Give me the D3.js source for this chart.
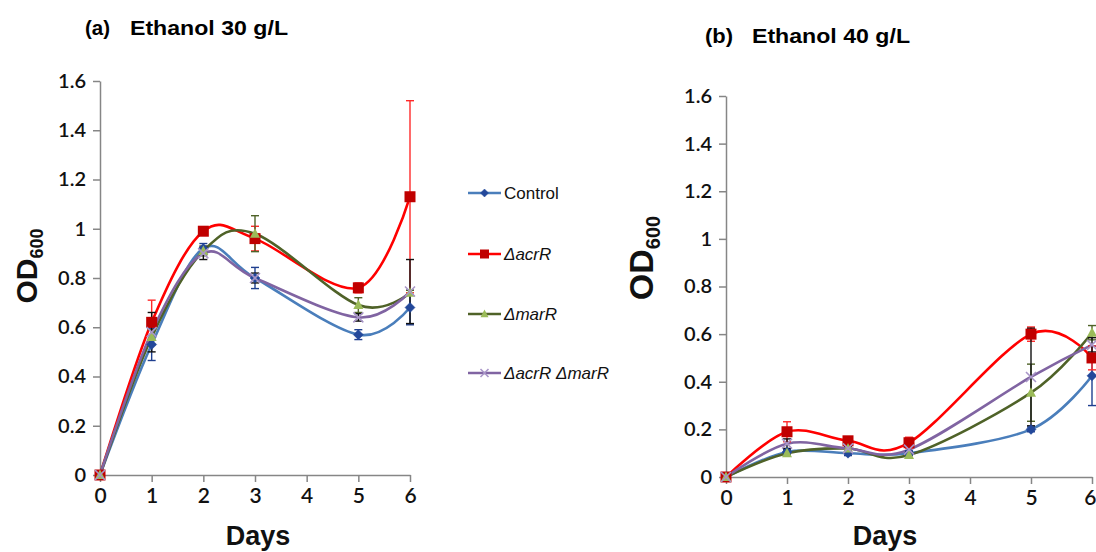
<!DOCTYPE html>
<html><head><meta charset="utf-8">
<script src="https://cdn.jsdelivr.net/npm/d3@7"></script>
<style>
html,body{margin:0;padding:0;background:#fff;}
svg{display:block;}
</style>
</head><body>
<svg id="chart" width="1096" height="552"></svg>
<script>
// ---------- data ----------
const days = [0, 1, 2, 3, 5, 6];
const xTicks = [0, 1, 2, 3, 4, 5, 6];
const yTicks = [0, 0.2, 0.4, 0.6, 0.8, 1.0, 1.2, 1.4, 1.6];
const seriesNames = ["Control", "ΔacrR", "ΔmarR", "ΔacrR ΔmarR"];
const panelTitles = ["Ethanol 30 g/L", "Ethanol 40 g/L"];
const panelLetters = ["(a)", "(b)"];

// Panel (a) Ethanol 30 g/L
const a_control   = [0, 0.53, 0.92, 0.80, 0.57, 0.68];
const a_acrR      = [0, 0.62, 0.99, 0.96, 0.76, 1.13];
const a_marR      = [0, 0.56, 0.91, 0.98, 0.69, 0.74];
const a_acrRmarR  = [0, 0.58, 0.90, 0.80, 0.64, 0.745];
const a_control_err  = [0.005, 0.065, 0.02, 0.043, 0.02, 0.07];
const a_acrR_err     = [0.005, 0.09, 0.01, 0.05, 0.02, 0.39];
const a_marR_err     = [0.005, 0.03, 0.02, 0.073, 0.03, 0.01];
const a_acrRmarR_err = [0.005, 0.08, 0.025, 0.02, 0.015, 0.13];

// Panel (b) Ethanol 40 g/L
const b_control   = [0, 0.105, 0.10, 0.10, 0.20, 0.425];
const b_acrR      = [0, 0.19, 0.152, 0.144, 0.60, 0.50];
const b_marR      = [0, 0.10, 0.12, 0.092, 0.354, 0.606];
const b_acrRmarR  = [0, 0.14, 0.12, 0.115, 0.42, 0.555];
const b_control_err  = [0.005, 0.01, 0.01, 0.01, 0.01, 0.125];
const b_acrR_err     = [0.005, 0.042, 0.01, 0.023, 0.03, 0.05];
const b_marR_err     = [0.005, 0.01, 0.01, 0.01, 0.12, 0.03];
const b_acrRmarR_err = [0.005, 0.02, 0.01, 0.01, 0.205, 0.03];

// ---------- styles ----------
const lineColors   = ["#4a7ebb", "#ff0000", "#4f6228", "#8064a2"];
const markerColors = ["#23489a", "#c00000", "#9bbb59", "#a996c8"];
const errColors    = ["#1f3f8f", "#ff2a2a", "#4f6228", "#111111"];
const markerTypes  = ["diamond", "square", "triangle", "x"];

const panels = [
  {xr: [100, 410], yr: [475, 81], vals: [a_control, a_acrR, a_marR, a_acrRmarR],
   errs: [a_control_err, a_acrR_err, a_marR_err, a_acrRmarR_err],
   letter: {x: 85, y: 35, w: 25}, title: {x: 130, y: 35, w: 158},
   od: {x: 37, y: 266, size: 30, sub: 18}, daysLbl: {x: 258, y: 545}},
  {xr: [726, 1092], yr: [477, 96], vals: [b_control, b_acrR, b_marR, b_acrRmarR],
   errs: [b_control_err, b_acrR_err, b_marR_err, b_acrRmarR_err],
   letter: {x: 705, y: 43, w: 28}, title: {x: 752, y: 43, w: 158},
   od: {x: 653, y: 258, size: 34, sub: 20}, daysLbl: {x: 885, y: 545}}
];

const svg = d3.select("#chart");
const axisColor = "#868686";
const tickFont = "Lato, 'Open Sans', sans-serif";
const fmt = v => String(+v.toFixed(1));

function drawMarker(g, type, x, y, color, s) {
  if (type === "diamond") {
    g.append("path").attr("d", `M${x},${y - s}L${x + s},${y}L${x},${y + s}L${x - s},${y}Z`)
      .attr("fill", color).attr("stroke", color).attr("stroke-width", 0.5);
  } else if (type === "square") {
    g.append("rect").attr("x", x - s).attr("y", y - s).attr("width", 2 * s).attr("height", 2 * s)
      .attr("fill", color);
  } else if (type === "triangle") {
    g.append("path").attr("d", `M${x},${y - s * 1.1}L${x + s},${y + s * 0.8}L${x - s},${y + s * 0.8}Z`)
      .attr("fill", color);
  } else {
    g.append("path").attr("d", `M${x - s},${y - s}L${x + s},${y + s}M${x - s},${y + s}L${x + s},${y - s}`)
      .attr("stroke", color).attr("stroke-width", 1.6).attr("fill", "none");
  }
}

panels.forEach((p, pi) => {
  const x = d3.scaleLinear().domain([0, 6]).range(p.xr);
  const y = d3.scaleLinear().domain([0, 1.6]).range(p.yr);
  const g = svg.append("g");

  // y axis
  const yAxis = g.append("g").attr("transform", `translate(${p.xr[0]},0)`)
    .call(d3.axisLeft(y).tickValues(yTicks).tickFormat(fmt).tickSize(7).tickSizeOuter(0).tickPadding(7));
  // x axis
  const xAxis = g.append("g").attr("transform", `translate(0,${p.yr[0]})`)
    .call(d3.axisBottom(x).tickValues(xTicks).tickFormat(d3.format("d")).tickSize(7).tickSizeOuter(0).tickPadding(6));
  [yAxis, xAxis].forEach(ax => {
    ax.select(".domain").attr("stroke", axisColor).attr("stroke-width", 1.5);
    ax.selectAll(".tick line").attr("stroke", axisColor).attr("stroke-width", 1.5);
    ax.selectAll(".tick text").attr("fill", "#111").attr("font-family", tickFont)
      .attr("font-size", 20).attr("font-weight", 600);
  });
  xAxis.selectAll(".tick text").attr("font-size", 21);
  // keep the last tick label of the right panel inside the page edge
  if (pi === 1) {
    xAxis.selectAll(".tick text").filter(d => d === 6).attr("text-anchor", "end").attr("dx", 4);
  }

  // series
  const line = d3.line().x((d, i) => x(days[i])).y(d => y(d)).curve(d3.curveCardinal.tension(0));
  p.vals.forEach((vals, si) => {
    const sg = g.append("g");
    sg.append("path").datum(vals).attr("d", line).attr("fill", "none")
      .attr("stroke", lineColors[si]).attr("stroke-width", 2.6);
  });
  // error bars
  p.vals.forEach((vals, si) => {
    const eg = g.append("g");
    vals.forEach((v, i) => {
      const e = p.errs[si][i];
      const cx = x(days[i]);
      const y1 = y(v + e), y2 = y(v - e);
      eg.append("line").attr("x1", cx).attr("x2", cx).attr("y1", y1).attr("y2", y2)
        .attr("stroke", errColors[si]).attr("stroke-width", 1.4);
      [y1, y2].forEach(yy => eg.append("line").attr("x1", cx - 4).attr("x2", cx + 4)
        .attr("y1", yy).attr("y2", yy).attr("stroke", errColors[si]).attr("stroke-width", 1.4));
    });
  });
  // markers
  p.vals.forEach((vals, si) => {
    const mg = g.append("g");
    vals.forEach((v, i) => drawMarker(mg, markerTypes[si], x(days[i]), y(v), markerColors[si],
      si === 1 ? 5.5 : 5));
  });

  // titles
  g.append("text").attr("x", p.letter.x).attr("y", p.letter.y).text(panelLetters[pi])
    .attr("font-family", "'Liberation Sans', Arial, sans-serif").attr("font-weight", "bold")
    .attr("font-size", 21).attr("textLength", p.letter.w).attr("lengthAdjust", "spacingAndGlyphs");
  g.append("text").attr("x", p.title.x).attr("y", p.title.y).text(panelTitles[pi])
    .attr("font-family", "'Liberation Sans', Arial, sans-serif").attr("font-weight", "bold")
    .attr("font-size", 21).attr("textLength", p.title.w).attr("lengthAdjust", "spacingAndGlyphs");

  // y label OD600
  const od = g.append("text").attr("transform", `translate(${p.od.x},${p.od.y}) rotate(-90)`)
    .attr("text-anchor", "middle").attr("font-family", "'Liberation Sans', Arial, sans-serif")
    .attr("font-weight", "bold").attr("font-size", p.od.size).attr("fill", "#111");
  od.append("tspan").text("OD");
  od.append("tspan").text("600").attr("font-size", p.od.sub).attr("dy", p.od.size * 0.2);

  // x label
  g.append("text").attr("x", p.daysLbl.x).attr("y", p.daysLbl.y).attr("text-anchor", "middle")
    .attr("font-family", "'Liberation Sans', Arial, sans-serif").attr("font-weight", "bold")
    .attr("font-size", 27).attr("fill", "#111").text("Days");
});

// ---------- legend ----------
const legendY = [193, 254, 314, 373];
const leg = svg.append("g");
seriesNames.forEach((name, si) => {
  const yy = legendY[si];
  leg.append("line").attr("x1", 468).attr("x2", 501).attr("y1", yy).attr("y2", yy)
    .attr("stroke", lineColors[si]).attr("stroke-width", 2.4);
  drawMarker(leg, markerTypes[si], 484.5, yy, markerColors[si], si === 1 ? 4.5 : 4);
  leg.append("text").attr("x", 504).attr("y", yy + 6).text(name)
    .attr("font-family", "'Liberation Sans', Arial, sans-serif").attr("font-size", 17)
    .attr("font-style", si === 0 ? "normal" : "italic").attr("fill", "#111");
});
</script>
</body></html>
